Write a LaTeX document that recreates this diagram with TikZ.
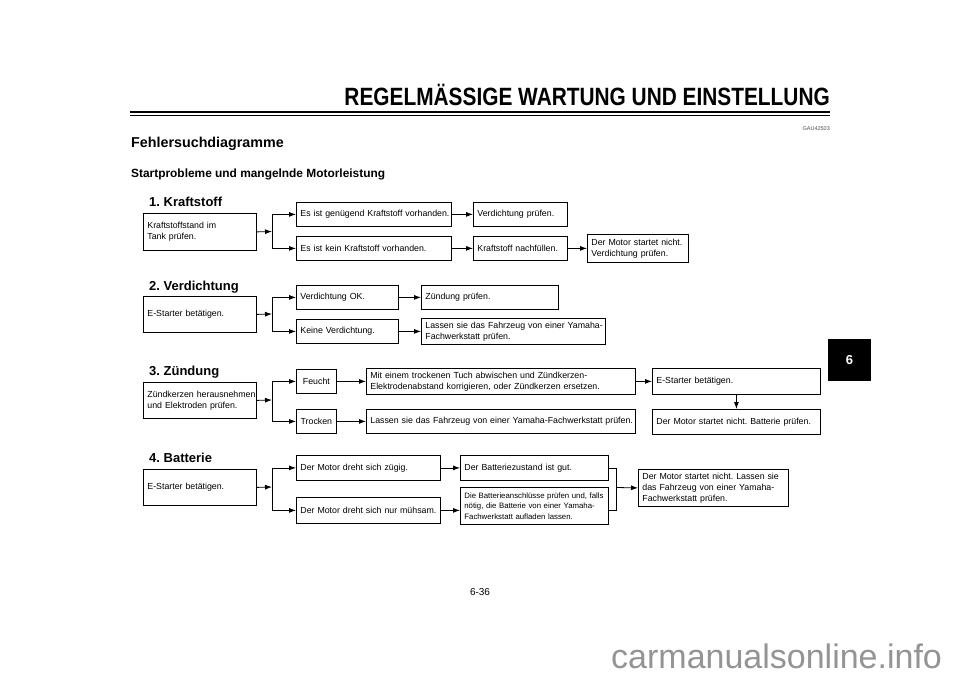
\documentclass[tikz,border=0pt]{standalone}
\usepackage{fontspec}
\setmainfont{Liberation Sans}
\usetikzlibrary{arrows.meta}
\newcommand\bxtext[1]{\mbox{#1}}
\frenchspacing
\begin{document}
\frenchspacing
\begin{tikzpicture}[x=1pt,y=-1pt,
 box/.style={draw, line width=0.8pt, anchor=north west, inner xsep=4pt, inner ysep=0pt, align=left, font=\fontsize{8.8}{11}\selectfont},
 cbox/.style={box, align=center, inner xsep=2pt},
 smallbox/.style={box, font=\fontsize{7.8}{10.5}\selectfont},
 arr/.style={line width=0.8pt, -{Latex[length=7pt,width=5pt]}},
 ln/.style={line width=0.8pt},
 sec/.style={anchor=base west, inner sep=0pt, font=\bfseries\fontsize{13}{15}\selectfont}]
\useasboundingbox (0,0) rectangle (960,679);
\fill[white] (0,0) rectangle (960,679);

% header
\node[anchor=base east, inner sep=0pt] (hd) at (830,106) {\scalebox{0.834}[1]{\bfseries\fontsize{25}{25}\selectfont REGELMÄSSIGE WARTUNG UND EINSTELLUNG}};
\draw[line width=2.2pt] (130,112) -- (830,112);
\draw[line width=0.8pt] (130,115.5) -- (830,115.5);
\node[anchor=base east, inner sep=0pt, text=black!70, font=\fontsize{5.5}{6}\selectfont] (gau) at (830,131) {GAU42503};
\node[anchor=base west, inner sep=0pt, font=\bfseries\fontsize{14.3}{16}\selectfont] (tt) at (131,148) {Fehlersuchdiagramme};
\node[anchor=base west, inner sep=0pt, font=\bfseries\fontsize{11.9}{14}\selectfont] (st) at (131,178) {Startprobleme und mangelnde Motorleistung};

% section 1
\node[sec] (s1) at (149,206) {1. Kraftstoff};
\node[box, minimum width=113pt, minimum height=37pt, text width=105pt] (a1) at (143,213) {\bxtext{Kraftstoffstand im}\\\bxtext{Tank prüfen.}};
\node[box, minimum width=155pt, minimum height=24pt, text width=147pt] (b1) at (296,202) {\bxtext{Es ist genügend Kraftstoff vorhanden.}};
\node[box, minimum width=155pt, minimum height=24pt, text width=147pt] (b2) at (296,236) {\bxtext{Es ist kein Kraftstoff vorhanden.}};
\node[box, minimum width=94pt, minimum height=24pt, text width=86pt] (c1) at (473,202) {\bxtext{Verdichtung prüfen.}};
\node[box, minimum width=94pt, minimum height=24pt, text width=86pt] (c2) at (473,236) {\bxtext{Kraftstoff nachfüllen.}};
\node[box, minimum width=101pt, minimum height=28pt, text width=93pt] (d2) at (587,234) {\bxtext{Der Motor startet nicht.}\\\bxtext{Verdichtung prüfen.}};
\coordinate (j1) at (272,231.5);
\draw[arr] (a1.east) -- (j1);
\draw[ln] (b1.west -| j1) -- (b2.west -| j1);
\draw[arr] (b1.west -| j1) -- (b1.west);
\draw[arr] (b2.west -| j1) -- (b2.west);
\draw[arr] (b1.east) -- (c1.west);
\draw[arr] (b2.east) -- (c2.west);
\draw[arr] (c2.east) -- (d2.west);

% section 2
\node[sec] (s2) at (149,290) {2. Verdichtung};
\node[box, minimum width=113pt, minimum height=36pt, text width=105pt] (e2) at (143,296) {\bxtext{E-Starter betätigen.}};
\node[box, minimum width=102pt, minimum height=24pt, text width=94pt] (v1) at (296,285) {\bxtext{Verdichtung OK.}};
\node[box, minimum width=102pt, minimum height=24pt, text width=94pt] (v2) at (296,319) {\bxtext{Keine Verdichtung.}};
\node[box, minimum width=137pt, minimum height=24pt, text width=129pt] (z1) at (421,285) {\bxtext{Zündung prüfen.}};
\node[box, minimum width=184pt, minimum height=26pt, text width=176pt] (z2) at (421,318) {\bxtext{Lassen sie das Fahrzeug von einer Yamaha-}\\\bxtext{Fachwerkstatt prüfen.}};
\coordinate (j2) at (272,314);
\draw[arr] (e2.east) -- (j2);
\draw[ln] (v1.west -| j2) -- (v2.west -| j2);
\draw[arr] (v1.west -| j2) -- (v1.west);
\draw[arr] (v2.west -| j2) -- (v2.west);
\draw[arr] (v1.east) -- (z1.west);
\draw[arr] (v2.east) -- (z2.west);

% section 3
\node[sec] (s3t) at (149,375) {3. Zündung};
\node[box, minimum width=113pt, minimum height=36pt, text width=105pt] (z3) at (143,382) {\bxtext{Zündkerzen herausnehmen}\\\bxtext{und Elektroden prüfen.}};
\node[cbox, minimum width=40pt, minimum height=24pt, text width=36pt] (f3) at (296,369) {Feucht};
\node[cbox, minimum width=40pt, minimum height=24pt, text width=36pt] (t3) at (296,409) {Trocken};
\node[box, minimum width=269pt, minimum height=26pt, text width=261pt] (m3) at (366,368) {\bxtext{Mit einem trockenen Tuch abwischen und Zündkerzen-}\\\bxtext{Elektrodenabstand korrigieren, oder Zündkerzen ersetzen.}};
\node[box, minimum width=168pt, minimum height=26pt, text width=160pt] (s3) at (652,368) {\bxtext{E-Starter betätigen.}};
\node[box, minimum width=269pt, minimum height=24pt, text width=261pt] (l3) at (366,409) {\bxtext{Lassen sie das Fahrzeug von einer Yamaha-Fachwerkstatt prüfen.}};
\node[box, minimum width=168pt, minimum height=25pt, text width=160pt] (d3) at (652,409) {\bxtext{Der Motor startet nicht. Batterie prüfen.}};
\coordinate (j3) at (272,400);
\draw[arr] (z3.east) -- (j3);
\draw[ln] (f3.west -| j3) -- (t3.west -| j3);
\draw[arr] (f3.west -| j3) -- (f3.west);
\draw[arr] (t3.west -| j3) -- (t3.west);
\draw[arr] (f3.east) -- (f3.east -| m3.west);
\draw[arr] (t3.east) -- (t3.east -| l3.west);
\draw[arr] (m3.east) -- (m3.east -| s3.west);
\draw[arr] (s3.south) -- (d3.north);

% section 4
\node[sec] (s4) at (149,462) {4. Batterie};
\node[box, minimum width=113pt, minimum height=36pt, text width=105pt] (e4) at (143,469) {\bxtext{E-Starter betätigen.}};
\node[box, minimum width=144pt, minimum height=25pt, text width=136pt] (g4) at (296,455) {\bxtext{Der Motor dreht sich zügig.}};
\node[box, minimum width=144pt, minimum height=26pt, text width=136pt] (mu) at (296,497) {\bxtext{Der Motor dreht sich nur mühsam.}};
\node[box, minimum width=148pt, minimum height=25pt, text width=140pt] (bz) at (460,455) {\bxtext{Der Batteriezustand ist gut.}};
\node[smallbox, minimum width=148pt, minimum height=37pt, text width=140pt] (ba) at (460,487) {\bxtext{Die Batterieanschlüsse prüfen und, falls}\\\bxtext{nötig, die Batterie von einer Yamaha-}\\\bxtext{Fachwerkstatt aufladen lassen.}};
\node[box, minimum width=150pt, minimum height=37pt, text width=142pt] (fin) at (638,469) {\bxtext{Der Motor startet nicht. Lassen sie}\\\bxtext{das Fahrzeug von einer Yamaha-}\\\bxtext{Fachwerkstatt prüfen.}};
\coordinate (j4) at (272,487);
\coordinate (m4) at (616,487.5);
\draw[arr] (e4.east) -- (j4);
\draw[ln] (g4.west -| j4) -- (mu.west -| j4);
\draw[arr] (g4.west -| j4) -- (g4.west);
\draw[arr] (mu.west -| j4) -- (mu.west);
\draw[arr] (g4.east) -- (bz.west);
\draw[arr] (mu.east) -- (mu.east -| ba.west);
\draw[ln] (bz.east) -- (bz.east -| m4) -- (mu.east -| m4) -- (mu.east -| ba.east);
\draw[arr] (m4) -- (fin.west);

% tab, page number, watermark
\node[fill=black, minimum width=43pt, minimum height=42pt, inner sep=0pt, text=white, font=\bfseries\fontsize{13}{13}\selectfont] (tab) at (849.5,360) {6};
\node[inner sep=0pt, font=\fontsize{10}{12}\selectfont] (pg) at (480,592) {6-36};
\node[anchor=base west, inner sep=0pt, text=black!42, font=\fontsize{34}{36}\selectfont] (wm) at (611,668) {carmanualsonline.info};
\end{tikzpicture}
\end{document}
